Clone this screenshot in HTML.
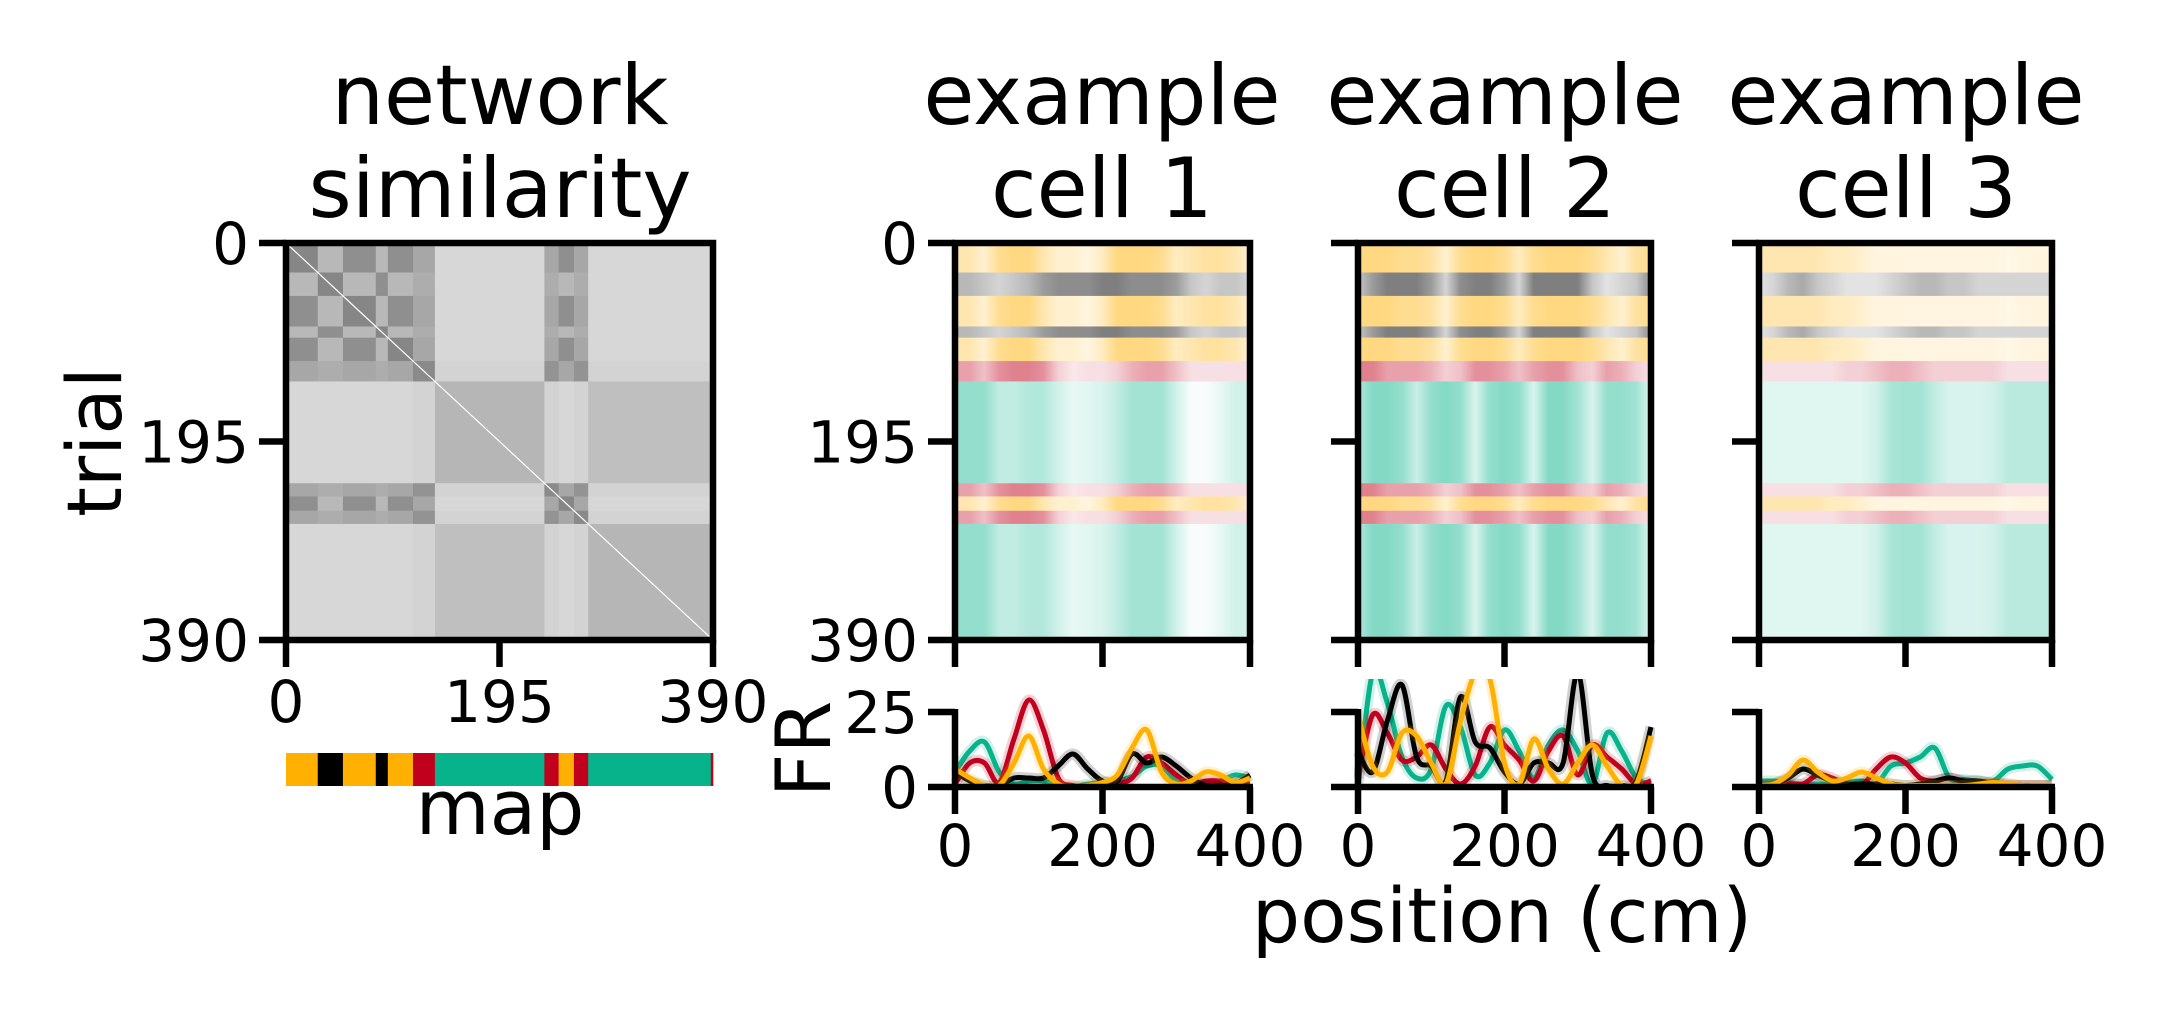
<!DOCTYPE html>
<html><head><meta charset="utf-8">
<style>
html,body{margin:0;padding:0;background:#fff;}
svg{display:block;font-family:"DejaVu Sans","Liberation Sans",sans-serif;}
</style></head>
<body>
<svg id="fig" width="2168" height="1018" viewBox="0 0 2168 1018" xmlns="http://www.w3.org/2000/svg">
  <rect x="0" y="0" width="2168" height="1018" fill="#fff"/>
  <defs id="defs"></defs>
  <g id="simG"></g>
  <g id="rasterG"></g>
  <g id="frG"></g>
  <g id="textG" fill="#000">
    <text x="500" y="124" font-size="83" text-anchor="middle">network</text>
    <text x="500" y="217" font-size="83" text-anchor="middle">similarity</text>
    <text x="1102" y="124" font-size="83" text-anchor="middle">example</text>
    <text x="1102" y="217" font-size="83" text-anchor="middle">cell 1</text>
    <text x="1505" y="124" font-size="83" text-anchor="middle">example</text>
    <text x="1505" y="217" font-size="83" text-anchor="middle">cell 2</text>
    <text x="1906" y="124" font-size="83" text-anchor="middle">example</text>
    <text x="1906" y="217" font-size="83" text-anchor="middle">cell 3</text>
    <text transform="translate(121,442) rotate(-90)" font-size="76" text-anchor="middle">trial</text>
    <text transform="translate(830,749) rotate(-90)" font-size="76" text-anchor="middle">FR</text>
    <text x="500" y="834" font-size="76" text-anchor="middle">map</text>
    <text x="1502" y="942" font-size="76" text-anchor="middle">position (cm)</text>
  </g>
</svg>
<script>
// ---------- data ----------
const segStarts = [0, 29, 52, 82, 93, 116, 136, 236, 249, 263, 276, 388];
const segEnds   = [29, 52, 82, 93, 116, 136, 236, 249, 263, 276, 388, 390];
const segMaps   = ['o','k','o','k','o','r','t','r','o','r','t','r'];
const mapTypes = ['o','k','r','t'];
const simOO = 0.72, simKK = 0.72, simRR = 0.68, simTT = 0.28;
const simOK = 0.35, simOR = 0.5, simKR = 0.45, simOT = 0.06, simKT = 0.06, simRT = 0.1;
const positions = [0,20,40,60,80,100,120,140,160,180,200,220,240,260,280,300,320,340,360,380,400];
// mean firing rate curves (Hz)
const c1Teal  = [5,12,15,5,1,2,2,0.5,0,1,1.5,2,3.5,7,7,2,0.5,1,2,4,3];
const c1Red   = [1,8,8,1.5,16,29,19,3,0.5,0,0.5,1,3,10,8,4,1,2,2,1,1];
const c1Black = [5,2,0.5,0.5,3,3,3,7,11,6,2,2,11,8,10,7,3,0.5,0.5,1,4];
const c1Orange= [6,3,0.5,0.5,8,17,6,1,0,0.5,1.5,4,13,19,5,1,2,5,4,1.5,3];
const c2Teal  = [0,38,28,10,3,6,27,20,4,8,19,12,3,14,19,12,1,18,12,3,1];
const c2Red   = [3,24,18,9,10,14,6,1,7,20,14,9,2,12,17,4,14,10,6,1,2];
const c2Black = [12,5,22,34,10,7,2,30,15,13,5,1,8,8,8,38,4,0.5,0.5,2,20];
const c2Orange= [24,7,5,18,17,8,1,22,38,36,8,1,16,6,1,8,14,7,0.5,1,17];
const c3Teal  = [2,2,1.5,1,1,1,1.5,2,1,7,8,10,13,3,2.5,2,2,6,7,7,2.5];
const c3Red   = [0.5,0.5,1,1,4,3,0.5,0.5,6,10,8,3,2,3,1.5,1,1.5,1,0.5,0.5,0.5];
const c3Black = [0.5,1,3,6,4,2,1,1,1,1,0.5,1,2,3,2,2,1,0.5,0.5,0.5,0.5];
const c3Orange= [0.5,1,4,9,5,2,3,5,3,1,0.5,0.5,0.5,0.5,0.5,1,1.5,1,0.5,0.5,0.5];
// raster spike density (0-1)
const r1Orange=[0.5,0.5,0.3,0.7,0.8,0.8,0.5,0.3,0.3,0.2,0.4,0.8,0.8,0.8,0.7,0.4,0.5,0.6,0.6,0.5,0.3];
const r1Black =[0.5,0.5,0.4,0.3,0.4,0.5,0.7,0.8,0.8,0.8,0.9,0.9,0.8,0.8,0.8,0.7,0.4,0.3,0.4,0.4,0.3];
const r1Red   =[0.6,0.6,0.4,0.7,0.8,0.8,0.7,0.3,0.15,0.2,0.2,0.3,0.5,0.6,0.6,0.4,0.2,0.2,0.2,0.2,0.2];
const r1Teal  =[0.7,0.7,0.7,0.4,0.4,0.5,0.5,0.3,0.15,0.2,0.25,0.4,0.6,0.6,0.6,0.3,0.05,0.05,0.15,0.3,0.3];
const r2Orange=[0.8,0.8,0.8,0.7,0.7,0.6,0.3,0.7,0.8,0.8,0.7,0.4,0.7,0.8,0.8,0.8,0.7,0.5,0.3,0.6,0.7];
const r2Black =[0.4,0.7,0.9,0.9,0.9,0.7,0.3,0.8,0.9,0.9,0.7,0.3,0.9,0.9,0.9,0.9,0.4,0.2,0.3,0.4,0.8];
const r2Red   =[0.8,0.8,0.6,0.6,0.6,0.5,0.3,0.4,0.7,0.7,0.6,0.4,0.6,0.7,0.7,0.4,0.3,0.6,0.5,0.3,0.2];
const r2Teal  =[0.5,0.8,0.8,0.7,0.35,0.7,0.8,0.7,0.25,0.7,0.8,0.7,0.25,0.8,0.8,0.6,0.25,0.7,0.7,0.6,0.2];
const r3Orange=[0.5,0.5,0.5,0.5,0.5,0.4,0.4,0.3,0.2,0.2,0.2,0.2,0.2,0.2,0.2,0.2,0.2,0.15,0.2,0.2,0.2];
const r3Black =[0.2,0.3,0.5,0.6,0.4,0.3,0.2,0.2,0.2,0.3,0.4,0.5,0.5,0.4,0.4,0.3,0.3,0.3,0.3,0.3,0.3];
const r3Red   =[0.2,0.2,0.2,0.2,0.2,0.2,0.3,0.3,0.4,0.5,0.5,0.4,0.3,0.3,0.3,0.3,0.3,0.2,0.2,0.2,0.2];
const r3Teal  =[0.2,0.2,0.2,0.2,0.2,0.2,0.2,0.2,0.3,0.55,0.6,0.6,0.4,0.25,0.25,0.25,0.3,0.45,0.45,0.45,0.45];
const trialTicks = [0,195,390];
const posTicks = [0,200,400];
const frTicks = [0,25];

// ---------- helpers ----------
const NS='http://www.w3.org/2000/svg';
function mk(tag, attrs, parent){const e=document.createElementNS(NS,tag);for(const k in attrs)e.setAttribute(k,attrs[k]);parent.appendChild(e);return e;}
const COL={o:'#FFB000',k:'#000000',r:'#C0001C',t:'#06B38A'};
const OPS=0.62;
const simPair = {};
function setPair(a,b,v){simPair[a+b]=v;simPair[b+a]=v;}
setPair('o','o',simOO);setPair('k','k',simKK);setPair('r','r',simRR);setPair('t','t',simTT);
setPair('o','k',simOK);setPair('o','r',simOR);setPair('k','r',simKR);setPair('o','t',simOT);setPair('k','t',simKT);setPair('r','t',simRT);

const simG=document.getElementById('simG'), rasterG=document.getElementById('rasterG'), frG=document.getElementById('frG'), defs=document.getElementById('defs');
const SW=6.5, TL=27, TFS=58;

// ---------- similarity ----------
const SX0=286, SX1=713, SY0=243, SY1=640;
const sx = t => SX0 + (SX1-SX0)*t/390;
const sy = t => SY0 + (SY1-SY0)*t/390;
function gray(s){const g=Math.round(222-s*110);return `rgb(${g},${g},${g})`;}
for(let i=0;i<segStarts.length;i++){
  for(let j=0;j<segStarts.length;j++){
    let s=simPair[segMaps[i]+segMaps[j]];
    if(i===j) s+=0.08;
    const r=mk('rect',{x:sx(segStarts[j]),y:sy(segStarts[i]),width:sx(segEnds[j])-sx(segStarts[j])+0.5,height:sy(segEnds[i])-sy(segStarts[i])+0.5,fill:gray(s)},simG);
    
    
  }
}
const diag=mk('line',{x1:sx(0),y1:sy(0),x2:sx(390),y2:sy(390),stroke:'#fff','stroke-width':1.2},simG);


const simBox=mk('rect',{x:SX0,y:SY0,width:SX1-SX0,height:SY1-SY0,fill:'none',stroke:'#000','stroke-width':SW},simG);


trialTicks.forEach(t=>{
  const a=mk('line',{x1:SX0-TL,x2:SX0,y1:sy(t),y2:sy(t),stroke:'#000','stroke-width':SW},simG);
  
  
  const l=mk('text',{x:SX0-TL-10,y:sy(t)+21,'font-size':TFS,'text-anchor':'end'},simG);l.textContent=t;
  
  
  const b=mk('line',{x1:sx(t),x2:sx(t),y1:SY1,y2:SY1+TL,stroke:'#000','stroke-width':SW},simG);
  
  
  const m=mk('text',{x:sx(t),y:722,'font-size':TFS,'text-anchor':'middle'},simG);m.textContent=t;
  
  
});
// map bar
for(let i=0;i<segStarts.length;i++){
  const r=mk('rect',{x:sx(segStarts[i]),y:753,width:sx(segEnds[i])-sx(segStarts[i])+0.3,height:33,fill:COL[segMaps[i]]},simG);
  
  
}

// ---------- cells ----------
const cells=[
  {x0:955,x1:1250,labels:true,fr:{t:c1Teal,r:c1Red,k:c1Black,o:c1Orange},ras:{t:r1Teal,r:r1Red,k:r1Black,o:r1Orange}},
  {x0:1358,x1:1651,labels:false,fr:{t:c2Teal,r:c2Red,k:c2Black,o:c2Orange},ras:{t:r2Teal,r:r2Red,k:r2Black,o:r2Orange}},
  {x0:1759,x1:2052,labels:false,fr:{t:c3Teal,r:c3Red,k:c3Black,o:c3Orange},ras:{t:r3Teal,r:r3Red,k:r3Black,o:r3Orange}}
];
const FY0=787, FY25=712, FTOP=679;
const fy = v => FY0 - (FY0-FY25)*v/25;
function smoothPath(pts){
  let d=`M${pts[0][0]},${pts[0][1]}`;
  for(let i=0;i<pts.length-1;i++){
    const p0=pts[Math.max(0,i-1)],p1=pts[i],p2=pts[i+1],p3=pts[Math.min(pts.length-1,i+2)];
    const c1x=p1[0]+(p2[0]-p0[0])/6,c1y=p1[1]+(p2[1]-p0[1])/6;
    const c2x=p2[0]-(p3[0]-p1[0])/6,c2y=p2[1]-(p3[1]-p1[1])/6;
    d+=` C${c1x},${c1y} ${c2x},${c2y} ${p2[0]},${p2[1]}`;
  }
  return d;
}
cells.forEach((c,ci)=>{
  const px = p => c.x0 + (c.x1-c.x0)*p/400;
  const g=mk('g',{},rasterG);
  
  
  mapTypes.forEach(m=>{
    const gr=mk('linearGradient',{id:`g${ci}${m}`,x1:0,x2:1,y1:0,y2:0},defs);
    positions.forEach((p,k)=>{
      mk('stop',{offset:p/400,'stop-color':COL[m],'stop-opacity':Math.min(0.85,c.ras[m][k]*OPS*(m==='k'?0.9:1))},gr);
    });
  });
  for(let i=0;i<segStarts.length;i++){
    const r=mk('rect',{x:c.x0,y:sy(segStarts[i]),width:c.x1-c.x0,height:sy(segEnds[i])-sy(segStarts[i]),fill:`url(#g${ci}${segMaps[i]})`},g);
    
    
  }
  const box=mk('rect',{x:c.x0,y:SY0,width:c.x1-c.x0,height:SY1-SY0,fill:'none',stroke:'#000','stroke-width':SW},g);
  
  
  trialTicks.forEach(t=>{
    const a=mk('line',{x1:c.x0-TL,x2:c.x0,y1:sy(t),y2:sy(t),stroke:'#000','stroke-width':SW},g);
    
    
    if(c.labels){
      const l=mk('text',{x:c.x0-TL-10,y:sy(t)+21,'font-size':TFS,'text-anchor':'end'},g);l.textContent=t;
      
      
    }
  });
  posTicks.forEach(p=>{
    const b=mk('line',{x1:px(p),x2:px(p),y1:SY1,y2:SY1+TL,stroke:'#000','stroke-width':SW},g);
    
    
  });
  const f=mk('g',{},frG);
  
  
  const cp=mk('clipPath',{id:'clip'+ci},defs);
  mk('rect',{x:c.x0-4,y:FTOP,width:c.x1-c.x0+8,height:FY0-FTOP},cp);
  const lines=mk('g',{'clip-path':`url(#clip${ci})`},f);
  ['t','r','k','o'].forEach(m=>{
    const pts=positions.map((p,k)=>[px(p),fy(c.fr[m][k])]);
    const d=smoothPath(pts);
    const band=mk('path',{d:d,fill:'none',stroke:COL[m],'stroke-opacity':0.18,'stroke-width':11,'stroke-linejoin':'round'},lines);
    
    
    const ln=mk('path',{d:d,fill:'none',stroke:COL[m],'stroke-width':5,'stroke-linejoin':'round'},lines);
    
    
  });
  const ls=mk('line',{x1:c.x0,x2:c.x0,y1:FY25-3,y2:FY0+3,stroke:'#000','stroke-width':SW},f);
  
  
  const bs=mk('line',{x1:c.x0-3,x2:c.x1+3,y1:FY0,y2:FY0,stroke:'#000','stroke-width':SW},f);
  
  
  frTicks.forEach(v=>{
    const a=mk('line',{x1:c.x0-TL,x2:c.x0,y1:fy(v),y2:fy(v),stroke:'#000','stroke-width':SW},f);
    
    
    if(c.labels){
      const l=mk('text',{x:c.x0-TL-10,y:fy(v)+21,'font-size':TFS,'text-anchor':'end'},f);l.textContent=v;
      
      
    }
  });
  posTicks.forEach(p=>{
    const b=mk('line',{x1:px(p),x2:px(p),y1:FY0,y2:FY0+TL,stroke:'#000','stroke-width':SW},f);
    
    
    const l=mk('text',{x:px(p),y:866,'font-size':TFS,'text-anchor':'middle'},f);l.textContent=p;
    
    
  });
});
</script>
</body></html>
